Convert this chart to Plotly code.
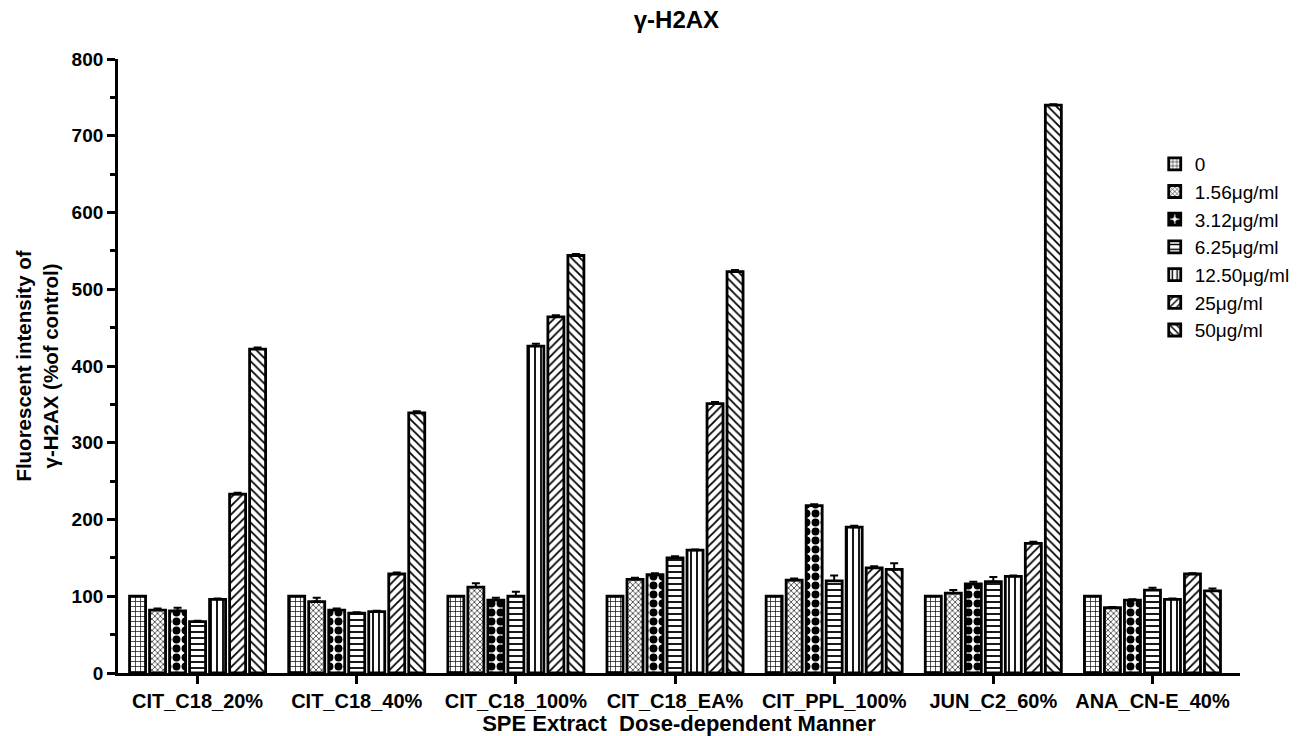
import plotly.graph_objects as go

categories = ["CIT_C18_20%", "CIT_C18_40%", "CIT_C18_100%", "CIT_C18_EA%",
              "CIT_PPL_100%", "JUN_C2_60%", "ANA_CN-E_40%"]
series_names = ["0", "1.56μg/ml", "3.12μg/ml", "6.25μg/ml", "12.50μg/ml", "25μg/ml", "50μg/ml"]

v_0 = [100, 100, 100, 100, 100, 100, 100]
v_156 = [82, 93, 112, 122, 121, 104, 85]
v_312 = [81, 82, 95, 128, 218, 116, 95]
v_625 = [67, 78, 100, 150, 120, 119, 108]
v_1250 = [96, 80, 426, 160, 190, 126, 96]
v_25 = [233, 129, 464, 351, 137, 169, 129]
v_50 = [422, 339, 544, 523, 135, 740, 107]

e_0 = [0, 0, 0, 0, 0, 0, 0]
e_156 = [2, 5, 5, 2, 2, 4, 1]
e_312 = [4, 2, 3, 2, 2, 3, 1]
e_625 = [1, 1, 6, 2, 7, 6, 3]
e_1250 = [1, 1, 3, 1, 2, 1, 1]
e_25 = [2, 2, 2, 2, 2, 2, 1]
e_50 = [2, 2, 2, 2, 8, 1, 3]

values = [v_0, v_156, v_312, v_625, v_1250, v_25, v_50]
errors = [e_0, e_156, e_312, e_625, e_1250, e_25, e_50]
patterns = [("+", 5, 0.25), ("x", 4, 0.3), (".", 9, 0.6), ("-", 6, 0.3),
            ("|", 6, 0.3), ("/", 6, 0.3), ("\\", 6, 0.3)]

FONT = "Liberation Sans, Arial, sans-serif"

fig = go.Figure()
for name, vals, errs, (shape, size, sol) in zip(series_names, values, errors, patterns):
    fig.add_trace(go.Bar(
        name=name, x=categories, y=vals,
        marker=dict(color="white", line=dict(color="black", width=2.8),
                    pattern=dict(shape=shape, size=size, solidity=sol,
                                 fgcolor="black", bgcolor="white", fillmode="replace")),
        error_y=dict(type="data", symmetric=False, array=errs,
                     arrayminus=[0] * len(errs), color="black", thickness=2, width=4),
    ))

fig.update_layout(
    width=1316, height=736,
    paper_bgcolor="white", plot_bgcolor="white",
    margin=dict(l=118, r=76, t=59, b=63),
    barmode="group", bargap=0.12, bargroupgap=0.2,
    font=dict(family=FONT, color="black"),
    title=dict(text="<b>γ-H2AX</b>", x=0.514, xanchor="center", y=0.985, yanchor="top",
               font=dict(size=24, family=FONT, color="black")),
    legend=dict(x=0.924, y=0.86, xanchor="left", yanchor="top",
                font=dict(size=19, family=FONT, color="black"),
                bgcolor="rgba(0,0,0,0)", tracegroupgap=0, itemwidth=30),
    showlegend=True,
)
fig.update_xaxes(
    type="category", range=[-0.5, 6.55], automargin=False,
    showline=True, linecolor="black", linewidth=2.8,
    ticks="outside", ticklen=8, tickwidth=2.8, tickcolor="black",
    tickfont=dict(size=20, family=FONT, color="black", weight="bold"),
    title=dict(text="<b>SPE Extract  Dose-dependent Manner</b>",
               font=dict(size=22, family=FONT, color="black"), standoff=0),
    showgrid=False, zeroline=False,
)
fig.update_yaxes(
    range=[0, 800], dtick=100, tick0=0,
    showline=True, linecolor="black", linewidth=2.8,
    ticks="outside", ticklen=8, tickwidth=2.8, tickcolor="black",
    minor=dict(dtick=50, ticks="outside", ticklen=5, tickwidth=2.8, tickcolor="black"),
    tickfont=dict(size=19, family=FONT, color="black", weight="bold"),
    title=dict(text="<b>Fluorescent intensity of<br>γ-H2AX (%of control)</b>",
               font=dict(size=20.5, family=FONT, color="black"), standoff=8),
    showgrid=False, zeroline=False,
)

fig.write_html("out.html", config={"displayModeBar": False},
               post_script="document.body.style.margin='0';")
